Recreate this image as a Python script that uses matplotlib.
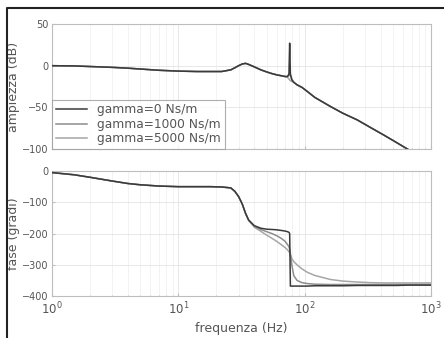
import matplotlib
matplotlib.use("Agg")
import matplotlib.pyplot as plt
from matplotlib.lines import Line2D

freq = [1, 1.5, 2, 3, 4, 5, 7, 10, 14, 18, 22, 26, 28, 30, 32, 34, 36, 40, 45, 50,
        55, 60, 65, 70, 73, 75, 76, 77, 79, 82, 87, 95, 105, 120, 160, 200, 260,
        330, 420, 530, 650, 800, 1000]

mag_g0 = [0, -0.3, -1, -2, -3, -4, -5.5, -6.5, -7, -7, -7, -5, -2.5, 0, 2, 2.8, 1.5,
          -1.5, -5, -7.5, -9.5, -11, -12, -13, -13, -10, 27, -10, -17, -20, -23, -26,
          -31, -38, -49, -57, -65, -74, -83, -92, -100, -108, -116]
mag_g1000 = [0, -0.3, -1, -2, -3, -4, -5.5, -6.5, -7, -7, -7, -5, -2.5, 0, 2, 2.8, 1.5,
             -1.5, -5, -7.5, -9.5, -11, -12, -13, -13, -12, -9, -11, -16, -20, -23, -26,
             -31, -38, -49, -57, -65, -74, -83, -92, -100, -108, -116]
mag_g5000 = [0, -0.3, -1, -2, -3, -4, -5.5, -6.5, -7, -7, -7, -5, -2.5, 0, 2, 2.8, 1.5,
             -1.5, -5, -7.5, -9.5, -11, -12, -13, -14, -16, -17, -18, -19, -20, -23, -26,
             -31, -38, -49, -57, -65, -74, -83, -92, -100, -108, -116]

ph_g0 = [-5, -12, -20, -32, -40, -44, -48, -50, -50, -50, -51, -54, -65, -82, -105, -135,
         -157, -175, -183, -186, -187, -188, -190, -192, -194, -196, -200, -368, -368,
         -368, -368, -368, -368, -367, -367, -367, -366, -366, -366, -366, -365, -365, -365]
ph_g1000 = [-5, -12, -20, -32, -40, -44, -48, -50, -50, -50, -51, -54, -65, -82, -105, -135,
            -157, -177, -187, -194, -200, -207, -215, -225, -235, -242, -250, -265, -300,
            -335, -350, -357, -360, -362, -363, -363, -363, -363, -363, -363, -363, -363, -363]
ph_g5000 = [-5, -12, -20, -32, -40, -44, -48, -50, -50, -50, -51, -54, -65, -82, -105, -135,
            -158, -180, -193, -205, -215, -225, -235, -245, -252, -258, -262, -267, -280,
            -290, -300, -313, -324, -334, -347, -352, -355, -357, -358, -358, -358, -358, -358]

labels = ["gamma=0 Ns/m", "gamma=1000 Ns/m", "gamma=5000 Ns/m"]
colors = ["#3a3a3a", "#8c8c8c", "#a6a6a6"]

mag_ticks = [50, 0, -50, -100]
ph_ticks = [0, -100, -200, -300, -400]
x_ticks = [1, 10, 100, 1000]
x_ticklabels = [r"$10^0$", r"$10^1$", r"$10^2$", r"$10^3$"]

txt = "#555555"
plt.rcParams["font.family"] = ["DejaVu Sans"]
fig = plt.figure(figsize=(4.44, 3.38), dpi=100)

ax1 = fig.add_axes([0.117, 0.559, 0.854, 0.370])
ax2 = fig.add_axes([0.117, 0.124, 0.854, 0.370])

for ax in (ax1, ax2):
    ax.set_xscale("log")
    ax.set_xlim(1, 1000)
    ax.grid(True, which="major", color="#e4e4e4", linewidth=0.6)
    ax.grid(True, which="minor", color="#eeeeee", linewidth=0.5)
    for s in ax.spines.values():
        s.set_color("#bdbdbd")
        s.set_linewidth(0.8)
    ax.tick_params(which="both", colors="#bdbdbd", labelcolor=txt, labelsize=7,
                   direction="in", length=2, pad=2.5)
    ax.tick_params(which="minor", length=1)
    ax.tick_params(axis="x", labelsize=8.5, pad=3.5)
    ax.set_xticks(x_ticks)

mags = [mag_g0, mag_g1000, mag_g5000]
phs = [ph_g0, ph_g1000, ph_g5000]
order = [2, 1, 0]
for i in order:
    ax1.plot(freq, mags[i], color=colors[i], linewidth=1.1, label=labels[i], zorder=3 + (2 - i))
    ax2.plot(freq, phs[i], color=colors[i], linewidth=1.1, zorder=3 + (2 - i))

ax1.set_ylim(-100, 50)
ax1.set_yticks(mag_ticks)
ax1.set_xticklabels([])
ax1.set_ylabel("ampiezza (dB)", fontsize=9, color=txt)
ax1.yaxis.set_label_coords(-0.085, 0.5)

ax2.set_ylim(-400, 0)
ax2.set_yticks(ph_ticks)
ax2.set_xticklabels(x_ticklabels)
ax2.set_ylabel("fase (gradi)", fontsize=9, color=txt)
ax2.yaxis.set_label_coords(-0.085, 0.5)
ax2.set_xlabel("frequenza (Hz)", fontsize=9, color=txt, labelpad=3)

handles, labs = ax1.get_legend_handles_labels()
hmap = dict(zip(labs, handles))
leg = ax1.legend([hmap[l] for l in labels], labels, loc="lower left", fontsize=8.8,
                 frameon=True, fancybox=False, borderaxespad=0.0, labelspacing=0.12,
                 handlelength=2.6, handletextpad=0.8, borderpad=0.3)
leg.get_frame().set_edgecolor("#9a9a9a")
leg.get_frame().set_linewidth(0.8)
for t in leg.get_texts():
    t.set_color(txt)

# outer frame (top and left borders of figure region)
fig.add_artist(Line2D([7 / 444, 7 / 444, 1.0], [0.0, 1 - 8 / 338, 1 - 8 / 338],
                      transform=fig.transFigure, color="#222222", linewidth=1.5))

fig.savefig("out.png", dpi=100)
